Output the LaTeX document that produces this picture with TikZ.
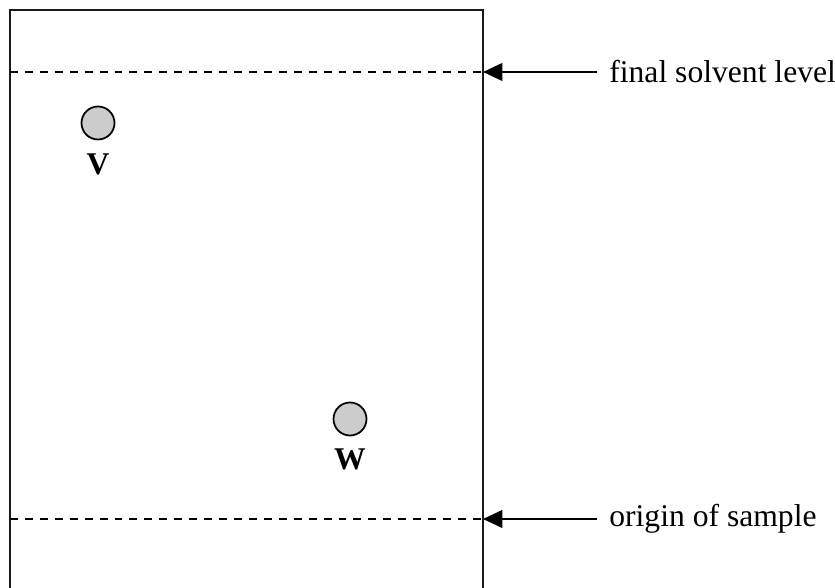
\documentclass[tikz,border=0pt]{standalone}
\usepackage{fontspec}
\setmainfont{Liberation Serif}
\usetikzlibrary{arrows.meta,positioning}
\tikzset{
  plate/.style={line width=1.3pt, draw=black!90},
  levelline/.style={dash pattern=on 4.5pt off 4pt, line width=1pt},
  spot/.style={circle, draw, line width=1pt, fill=black!20,
    minimum size=0.66cm, inner sep=0pt},
  spotlab/.style={font=\fontsize{18}{20}\selectfont\bfseries, inner sep=0pt},
  note/.style={font=\fontsize{18}{20}\selectfont, inner xsep=0.24cm, inner ysep=0pt},
  pointer/.style={-{Triangle[length=11pt, width=10pt]}, line width=1.3pt}
}

\begin{document}
\begin{tikzpicture}[x=0.02cm, y=0.02cm]
  \useasboundingbox (0,0) rectangle (835,588);
  % plate, open at the bottom
  \draw[plate] (10,0) -- (10,578) -- (483,578) -- (483,0);
  \coordinate (top) at (483,516);
  \coordinate (base) at (483,69);
  \draw[levelline] (10,516) -- (top);
  \draw[levelline] (10,69) -- (base);
  % spots
  \node[spot] (v) at (98,465) {};
  \node[spot] (w) at (350,169) {};
  \node[spotlab, below=0.26cm of v] (vlab) {V};
  \node[spotlab, below=0.24cm of w] (wlab) {W};
  % labels on the right
  \node[note, right=2.28cm of top] (solv) {final solvent level};
  \node[note, right=2.28cm of base] (orig) {origin of sample};
  \draw[pointer] (solv.west) -- (top);
  \draw[pointer] (orig.west) -- (base);
\end{tikzpicture}
\end{document}
